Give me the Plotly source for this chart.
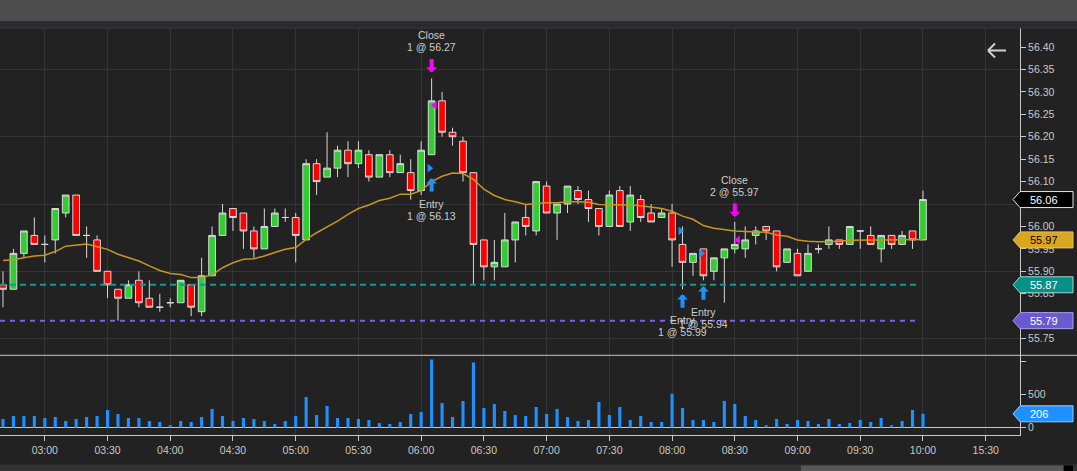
import plotly.graph_objects as go

W, H = 1077, 471

# 5-minute bars, 02:40 .. 10:00 (bar index 0..88)
opens = [55.87, 55.86, 55.94, 55.98, 55.96, 55.97, 56.03, 56.07, 55.98, 55.97,
         55.90, 55.86, 55.84, 55.88, 55.84, 55.82, 55.83, 55.83, 55.87, 55.81,
         55.89, 55.98, 56.04, 56.03, 55.99, 55.95, 56.00, 56.02, 56.02, 55.97,
         56.14, 56.11, 56.13, 56.17, 56.14, 56.16, 56.11, 56.16, 56.12, 56.12,
         56.08, 56.16, 56.28, 56.21, 56.19, 56.12, 55.97, 55.91, 55.91, 55.97,
         56.02, 55.99, 56.09, 56.03, 56.05, 56.08, 56.06, 56.04, 56.00, 56.08,
         56.01, 56.06, 56.03, 56.02, 56.03, 55.96, 55.92, 55.95, 55.90, 55.93,
         55.95, 55.95, 55.98, 56.00, 55.99, 55.92, 55.94, 55.90, 55.95, 55.96,
         55.97, 55.96, 55.99, 55.98, 55.95, 55.98, 55.96, 55.99, 55.97]
highs = [55.90, 55.95, 55.99, 56.02, 55.98, 56.04, 56.07, 56.07, 56.00, 55.98,
         55.90, 55.86, 55.88, 55.90, 55.88, 55.85, 55.84, 55.88, 55.87, 55.93,
         56.00, 56.05, 56.04, 56.03, 56.00, 56.04, 56.04, 56.04, 56.03, 56.15,
         56.15, 56.21, 56.18, 56.19, 56.19, 56.17, 56.16, 56.17, 56.16, 56.15,
         56.19, 56.33, 56.30, 56.22, 56.20, 56.12, 55.97, 55.97, 56.03, 56.01,
         56.05, 56.10, 56.10, 56.05, 56.09, 56.09, 56.08, 56.04, 56.08, 56.09,
         56.09, 56.07, 56.05, 56.04, 56.05, 56.00, 55.94, 55.95, 55.93, 55.95,
         56.01, 56.00, 56.00, 56.00, 55.99, 55.95, 55.95, 55.96, 55.96, 56.00,
         55.97, 56.00, 55.99, 56.00, 55.98, 55.98, 55.99, 55.99, 56.08]
lows = [55.82, 55.86, 55.93, 55.96, 55.92, 55.94, 56.02, 55.98, 55.93, 55.90,
        55.84, 55.79, 55.84, 55.82, 55.82, 55.81, 55.82, 55.83, 55.80, 55.80,
        55.89, 55.98, 55.99, 55.95, 55.93, 55.95, 56.00, 56.01, 55.92, 55.97,
        56.07, 56.11, 56.11, 56.11, 56.13, 56.10, 56.11, 56.11, 56.12, 56.06,
        56.07, 56.16, 56.20, 56.18, 56.10, 55.87, 55.88, 55.88, 55.91, 55.92,
        55.98, 55.98, 56.03, 55.97, 56.03, 56.05, 56.01, 55.98, 56.00, 56.00,
        55.99, 56.01, 56.01, 56.02, 55.91, 55.86, 55.89, 55.88, 55.88, 55.83,
        55.94, 55.93, 55.96, 55.97, 55.90, 55.92, 55.89, 55.90, 55.94, 55.95,
        55.95, 55.96, 55.95, 55.96, 55.92, 55.95, 55.96, 55.95, 55.97]
closes = [55.86, 55.94, 55.99, 55.96, 55.96, 56.04, 56.07, 55.98, 55.98, 55.90,
          55.87, 55.84, 55.87, 55.83, 55.82, 55.82, 55.83, 55.88, 55.82, 55.89,
          55.98, 56.03, 56.02, 55.99, 55.95, 56.00, 56.03, 56.02, 55.98, 56.14,
          56.10, 56.13, 56.17, 56.14, 56.17, 56.11, 56.16, 56.12, 56.14, 56.08,
          56.17, 56.28, 56.21, 56.20, 56.12, 55.96, 55.91, 55.92, 55.97, 56.01,
          56.00, 56.10, 56.03, 56.05, 56.09, 56.06, 56.04, 56.00, 56.07, 56.00,
          56.07, 56.02, 56.01, 56.03, 55.97, 55.92, 55.94, 55.89, 55.93, 55.95,
          55.96, 55.97, 55.99, 55.99, 55.91, 55.95, 55.89, 55.94, 55.95, 55.97,
          55.96, 56.00, 55.99, 55.96, 55.98, 55.96, 55.98, 55.97, 56.06]
volumes = [127, 172, 172, 172, 142, 157, 96, 127, 157, 172,
           264, 203, 142, 142, 96, 81, 35, 96, 81, 157,
           279, 172, 96, 142, 127, 96, 51, 96, 172, 461,
           188, 324, 142, 142, 127, 112, 66, 51, 81, 203,
           233, 1024, 370, 157, 400, 978, 294, 355, 248, 188,
           172, 309, 203, 279, 157, 96, 112, 385, 188, 309,
           112, 172, 81, 81, 507, 294, 112, 112, 81, 400,
           355, 172, 112, 35, 127, 51, 112, 96, 51, 127,
           51, 66, 112, 81, 142, 35, 96, 264, 206]
# moving average line as drawn on the chart
sma = [55.924, 55.926, 55.930, 55.934, 55.936, 55.944, 55.956, 55.959, 55.961, 55.955,
       55.949, 55.938, 55.930, 55.923, 55.912, 55.902, 55.895, 55.893, 55.886, 55.886,
       55.892, 55.908, 55.919, 55.927, 55.928, 55.934, 55.942, 55.949, 55.953, 55.971,
       55.986, 55.999, 56.012, 56.027, 56.040, 56.048, 56.058, 56.063, 56.072, 56.072,
       56.080, 56.100, 56.112, 56.119, 56.118, 56.105, 56.083, 56.069, 56.060, 56.055,
       56.049, 56.051, 56.053, 56.053, 56.055, 56.055, 56.054, 56.049, 56.049, 56.048,
       56.048, 56.046, 56.043, 56.040, 56.034, 56.023, 56.016, 56.002, 55.996, 55.993,
       55.990, 55.989, 55.988, 55.987, 55.981, 55.978, 55.970, 55.967, 55.966, 55.966,
       55.967, 55.969, 55.970, 55.970, 55.970, 55.970, 55.970, 55.970, 55.971]
bars = list(range(len(opens)))

tick_bars = [4, 10, 16, 22, 28, 34, 40, 46, 52, 58, 64, 70, 76, 82, 88, 94]
tick_labels = ['03:00', '03:30', '04:00', '04:30', '05:00', '05:30', '06:00', '06:30',
               '07:00', '07:30', '08:00', '08:30', '09:00', '09:30', '10:00', '15:30']

# executions
trade_bar = [41, 41, 65, 67, 70]
trade_kind = ['Entry', 'Close', 'Entry', 'Entry', 'Close']
trade_qty = [1, 1, 1, 1, 2]
trade_price = [56.13, 56.27, 55.99, 55.94, 55.97]
arrow_tip = [56.108, 56.343, 55.849, 55.867, 56.021]

# horizontal price levels
level_price = [55.87, 55.79]
level_color = ['#0e9a94', '#7466e0']
level_box = ['#078f88', '#6a5acd']
level_edge = ['#9ad8d4', '#a8a0f0']
level_dash = ['6px,4px', '5px,5px']

# pixel layout
PLOT_R = 1020
PRICE_TOP, PRICE_BOT = 28, 355.3
VOL_BOT = 435.3
price_range = [55.7128, 56.4424]
vol_range = [-117.5, 1087]
x_range = [-0.285, 97.28]

def px(x):
    return x / W

def py(y):
    return 1 - y / H

GRID = '#353535'
AXIS = '#c8c8c8'
FONT = 'Liberation Sans, Arial, sans-serif'

fig = go.Figure()

fig.add_trace(go.Candlestick(
    x=bars, open=opens, high=highs, low=lows, close=closes,
    increasing=dict(fillcolor='#32cd32', line=dict(color='#d8d8d8', width=1)),
    decreasing=dict(fillcolor='#ff0000', line=dict(color='#d8d8d8', width=1)),
    whiskerwidth=0, hoverinfo='skip', xaxis='x', yaxis='y'))

fig.add_trace(go.Scatter(
    x=bars, y=sma, mode='lines', line=dict(color='#c8961e', width=1.5),
    hoverinfo='skip', xaxis='x', yaxis='y'))

entries = [i for i, k in enumerate(trade_kind) if k == 'Entry']
exits = [i for i, k in enumerate(trade_kind) if k == 'Close']
fig.add_trace(go.Scatter(
    x=[trade_bar[i] - 0.2 for i in entries], y=[trade_price[i] for i in entries],
    mode='markers', marker=dict(symbol='triangle-right', size=7.5, color='#1e90ff'),
    hoverinfo='skip', xaxis='x', yaxis='y'))
fig.add_trace(go.Scatter(
    x=[trade_bar[i] + 0.3 for i in exits], y=[trade_price[i] for i in exits],
    mode='markers', marker=dict(symbol='triangle-left', size=7.5, color='#ff00ff'),
    hoverinfo='skip', xaxis='x', yaxis='y'))

fig.add_trace(go.Bar(
    x=bars, y=volumes, width=0.3, marker=dict(color='#1e90ff', line=dict(width=0)),
    hoverinfo='skip', xaxis='x2', yaxis='y2'))

# carrier for the price tick axis
fig.add_trace(go.Scatter(
    x=[bars[-1]], y=[closes[-1]], mode='markers', marker=dict(opacity=0),
    hoverinfo='skip', xaxis='x', yaxis='y3'))

shapes = []
# dashed levels
for p, c, d in zip(level_price, level_color, level_dash):
    shapes.append(dict(type='line', xref='x', yref='y', x0=x_range[0], x1=bars[-1] - 0.65,
                       y0=p, y1=p, line=dict(color=c, width=2, dash=d)))

# panel separator
shapes.append(dict(type='line', xref='paper', yref='paper', x0=0, x1=1,
                   y0=py(PRICE_BOT), y1=py(PRICE_BOT), line=dict(color=AXIS, width=1)))
# window chrome
shapes.append(dict(type='rect', xref='paper', yref='paper', x0=0, x1=1, y0=py(21), y1=1,
                   fillcolor='#4d4d4d', line=dict(width=0), layer='above'))
shapes.append(dict(type='rect', xref='paper', yref='paper', x0=0, x1=1, y0=py(PRICE_TOP), y1=py(21),
                   fillcolor='#2b2b2d', line=dict(width=0), layer='above'))
shapes.append(dict(type='line', xref='paper', yref='paper', x0=0, x1=1, y0=py(PRICE_TOP), y1=py(PRICE_TOP),
                   line=dict(color='#383838', width=1), layer='above'))
shapes.append(dict(type='rect', xref='paper', yref='paper', x0=0, x1=1, y0=0, y1=py(464.5),
                   fillcolor='#333333', line=dict(width=0), layer='above'))
shapes.append(dict(type='rect', xref='paper', yref='paper', x0=px(801), x1=px(1063), y0=0, y1=py(465.5),
                   fillcolor='#575757', line=dict(width=0), layer='above'))
shapes.append(dict(type='rect', xref='paper', yref='paper', x0=px(1064), x1=px(1073), y0=0, y1=py(465.5),
                   fillcolor='#000000', line=dict(width=0), layer='above'))

# back-arrow icon (top right of the price pane)
for (x0, y0, x1, y1) in [(988, 50.5, 1006, 50.5), (988, 50.5, 995, 43.5), (988, 50.5, 995, 57.5)]:
    shapes.append(dict(type='line', xref='paper', yref='paper', x0=px(x0), y0=py(y0), x1=px(x1), y1=py(y1),
                       line=dict(color='#d0d0d0', width=2), layer='above'))

# value tags on the right axis
def tag(value, yref, half, fill, border):
    xl, xa, xr = px(1013), px(PLOT_R), px(1073)
    path = (f'M {xl},{value} L {xa},{value + half} L {xr},{value + half} '
            f'L {xr},{value - half} L {xa},{value - half} Z')
    return dict(type='path', xref='paper', yref=yref, path=path, fillcolor=fill,
                line=dict(color=border, width=1), layer='above')

price_half = 8 * (price_range[1] - price_range[0]) / (PRICE_BOT - PRICE_TOP)
vol_half = 8 * (vol_range[1] - vol_range[0]) / (VOL_BOT - PRICE_BOT)

tags = [(closes[-1], 'y', price_half, '#000000', '#e6e6e6', '#ffffff', f'{closes[-1]:.2f}'),
        (round(sma[-1], 2), 'y', price_half, '#daa520', '#e8c060', '#000000', f'{sma[-1]:.2f}')]
for p, b, e in zip(level_price, level_box, level_edge):
    tags.append((p, 'y', price_half, b, e, '#ffffff', f'{p:.2f}'))
tags.append((volumes[-1], 'y2', vol_half, '#1e90ff', '#9ccaff', '#ffffff', f'{volumes[-1]}'))

annotations = []
for v, yref, half, fill, border, tc, txt in tags:
    shapes.append(tag(v, yref, half, fill, border))
    annotations.append(dict(xref='paper', yref=yref, x=px(1028), y=v, text=txt, showarrow=False,
                            xanchor='left', yanchor='middle', font=dict(family=FONT, size=11, color=tc)))

# trade arrows and labels
for b, kind, qty, price, tip in zip(trade_bar, trade_kind, trade_qty, trade_price, arrow_tip):
    entry = kind == 'Entry'
    col = '#1e90ff' if entry else '#ff00ff'
    annotations.append(dict(xref='x', yref='y', x=b, y=tip, text='', showarrow=True,
                            ax=0, ay=15 if entry else -15, arrowcolor=col, arrowwidth=4,
                            arrowhead=1, arrowsize=0.45, standoff=0))
    annotations.append(dict(xref='x', yref='y', x=b, y=tip, text=kind, showarrow=False,
                            yshift=-25.5 if entry else 37.5,
                            font=dict(family=FONT, size=10.5, color='#cccccc')))
    annotations.append(dict(xref='x', yref='y', x=b, y=tip, text=f'{qty} @ {price:.2f}', showarrow=False,
                            yshift=-37.5 if entry else 25.5,
                            font=dict(family=FONT, size=10.5, color='#cccccc')))

fig.update_layout(
    width=W, height=H,
    margin=dict(l=0, r=0, t=0, b=0),
    paper_bgcolor='#222222', plot_bgcolor='#222222',
    showlegend=False,
    boxgap=0.36, boxgroupgap=0,
    font=dict(family=FONT, size=10.5, color=AXIS),
    xaxis=dict(domain=[0, px(PLOT_R)], range=x_range, anchor='y',
               tickvals=tick_bars, ticktext=tick_labels, showticklabels=False, ticks='',
               showgrid=True, gridcolor=GRID, zeroline=False, showline=False,
               rangeslider=dict(visible=False), fixedrange=True),
    xaxis2=dict(domain=[0, px(PLOT_R)], range=x_range, anchor='y2', matches='x',
                tickvals=tick_bars, ticktext=tick_labels, ticks='outside', ticklen=5,
                tickcolor=AXIS, tickfont=dict(size=10.5, color=AXIS),
                showgrid=True, gridcolor=GRID, zeroline=False,
                showline=True, linecolor=AXIS, linewidth=1),
    yaxis=dict(domain=[py(PRICE_BOT), py(PRICE_TOP)], range=price_range, anchor='x', side='right',
               tick0=55.75, dtick=0.15, showticklabels=False, ticks='',
               showgrid=True, gridcolor=GRID, zeroline=False,
               showline=True, linecolor=AXIS, linewidth=1),
    yaxis3=dict(overlaying='y', anchor='x', side='right', range=price_range,
                tick0=55.75, dtick=0.05, tickformat='.2f', ticks='outside', ticklen=5,
                tickcolor=AXIS, tickfont=dict(size=10.5, color=AXIS),
                showgrid=False, zeroline=False, showline=False),
    yaxis2=dict(domain=[py(VOL_BOT), py(PRICE_BOT)], range=vol_range, anchor='x2', side='right',
                tickvals=[0, 500, 1000], ticktext=['0', '500', ''], ticks='outside', ticklen=5,
                tickcolor=AXIS, tickfont=dict(size=10.5, color=AXIS),
                showgrid=False, zeroline=True, zerolinecolor=AXIS, zerolinewidth=1,
                showline=True, linecolor=AXIS, linewidth=1),
    shapes=shapes,
    annotations=annotations,
)

fig.write_html('out.html', config={'displayModeBar': False},
               post_script="document.body.style.margin='0';document.body.style.overflow='hidden';")
